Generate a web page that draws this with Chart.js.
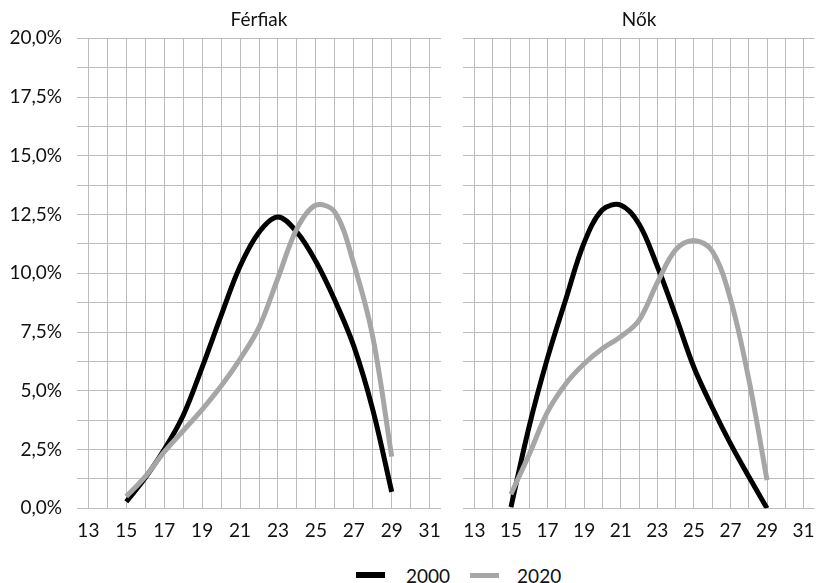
<!DOCTYPE html>
<html>
<head>
<meta charset="utf-8">
<script src="https://cdn.jsdelivr.net/npm/chart.js@4.4.1/dist/chart.umd.min.js"></script>
<style>
  html, body { margin: 0; padding: 0; background: #ffffff; }
  body { width: 826px; height: 583px; position: relative; overflow: hidden; font-family: Lato, "Open Sans", sans-serif; }
  #c1 { position: absolute; left: 0; top: 0; }
  #c2 { position: absolute; left: 452px; top: 0; }
  #legend { position: absolute; left: 356px; top: 563px; height: 24px; display: flex; align-items: center; font-size: 19px; color: #111; }
  .sw { display: inline-block; width: 29px; height: 6px; }
</style>
</head>
<body>
<canvas id="c1" width="452" height="550"></canvas>
<canvas id="c2" width="374" height="550"></canvas>
<div id="legend">
  <span class="sw" style="background:#000000;margin-right:21px"></span><span style="margin-right:20px">2000</span>
  <span class="sw" style="background:#A6A6A6;height:5px;margin-right:18px"></span><span>2020</span>
</div>
<script>
// ---- data (values in %) ----
const ages = [15, 16, 17, 18, 19, 20, 21, 22, 23, 24, 25, 26, 27, 28, 29];
const ferfiak2000 = [0.28, 1.3, 2.5, 3.95, 6.0, 8.2, 10.3, 11.75, 12.4, 11.75, 10.5, 8.85, 6.9, 4.2, 0.7];
const ferfiak2020 = [0.5, 1.35, 2.4, 3.3, 4.2, 5.2, 6.35, 7.7, 9.8, 11.9, 12.9, 12.6, 10.4, 7.3, 2.2];
const nok2000 = [0.05, 3.5, 6.4, 8.9, 11.3, 12.7, 12.9, 12.1, 10.3, 8.2, 6.0, 4.3, 2.75, 1.35, 0.0];
const nok2020 = [0.6, 2.3, 4.1, 5.3, 6.15, 6.8, 7.3, 8.0, 9.6, 11.0, 11.4, 10.95, 8.9, 5.5, 1.2];
const panelTitles = ['Férfiak', 'Nők'];
const seriesNames = ['2000', '2020'];
const xTickValues = [13, 14, 15, 16, 17, 18, 19, 20, 21, 22, 23, 24, 25, 26, 27, 28, 29, 30, 31];

const FONT = 'Lato, "Open Sans", sans-serif';
const GRID = '#bdbdbd';
const TXT = '#111111';

function pts(vals) { return ages.map((a, i) => ({ x: a, y: vals[i] })); }

function makeChart(id, title, d2000, d2020, showY, pad) {
  return new Chart(document.getElementById(id), {
    type: 'line',
    data: {
      datasets: [
        { label: seriesNames[1], data: pts(d2020), borderColor: '#A6A6A6', borderWidth: 5, pointRadius: 0, tension: 0.35, fill: false },
        { label: seriesNames[0], data: pts(d2000), borderColor: '#000000', borderWidth: 5, pointRadius: 0, tension: 0.35, fill: false }
      ]
    },
    options: {
      responsive: false,
      animation: false,
      devicePixelRatio: 1,
      layout: { padding: pad },
      plugins: {
        legend: { display: false },
        tooltip: { enabled: false },
        title: { display: true, fullSize: false, text: title, color: TXT, font: { family: FONT, size: 19, weight: 'normal' }, padding: { top: 8, bottom: 7.5 } }
      },
      scales: {
        x: {
          type: 'linear', min: 12.4, max: 31.6,
          afterBuildTicks: s => { s.ticks = xTickValues.map(v => ({ value: v })); },
          afterFit: s => { s.height = 41.7; },
          grid: { color: GRID, lineWidth: 1, drawTicks: false },
          border: { display: false },
          ticks: { autoSkip: false, maxRotation: 0, padding: 11, color: TXT, font: { family: FONT, size: 19 },
                   callback: v => (v % 2 === 1 ? String(v) : '') }
        },
        y: {
          min: 0, max: 20,
          afterFit: s => { s.width = showY ? 77 : 0; },
          grid: { color: GRID, lineWidth: 1, drawTicks: false },
          border: { display: false },
          ticks: { stepSize: 1.25, display: showY, padding: 15, color: TXT, font: { family: FONT, size: 19 },
                   callback: v => (Math.abs(v / 2.5 - Math.round(v / 2.5)) < 1e-6 ? v.toFixed(1).replace('.', ',') + '%' : '') }
        }
      }
    }
  });
}

makeChart('c1', panelTitles[0], ferfiak2000, ferfiak2020, true, { left: 0, right: 10, top: 0, bottom: 0 });
makeChart('c2', panelTitles[1], nok2000, nok2020, false, { left: 10, right: 1, top: 0, bottom: 0 });
</script>
</body>
</html>
